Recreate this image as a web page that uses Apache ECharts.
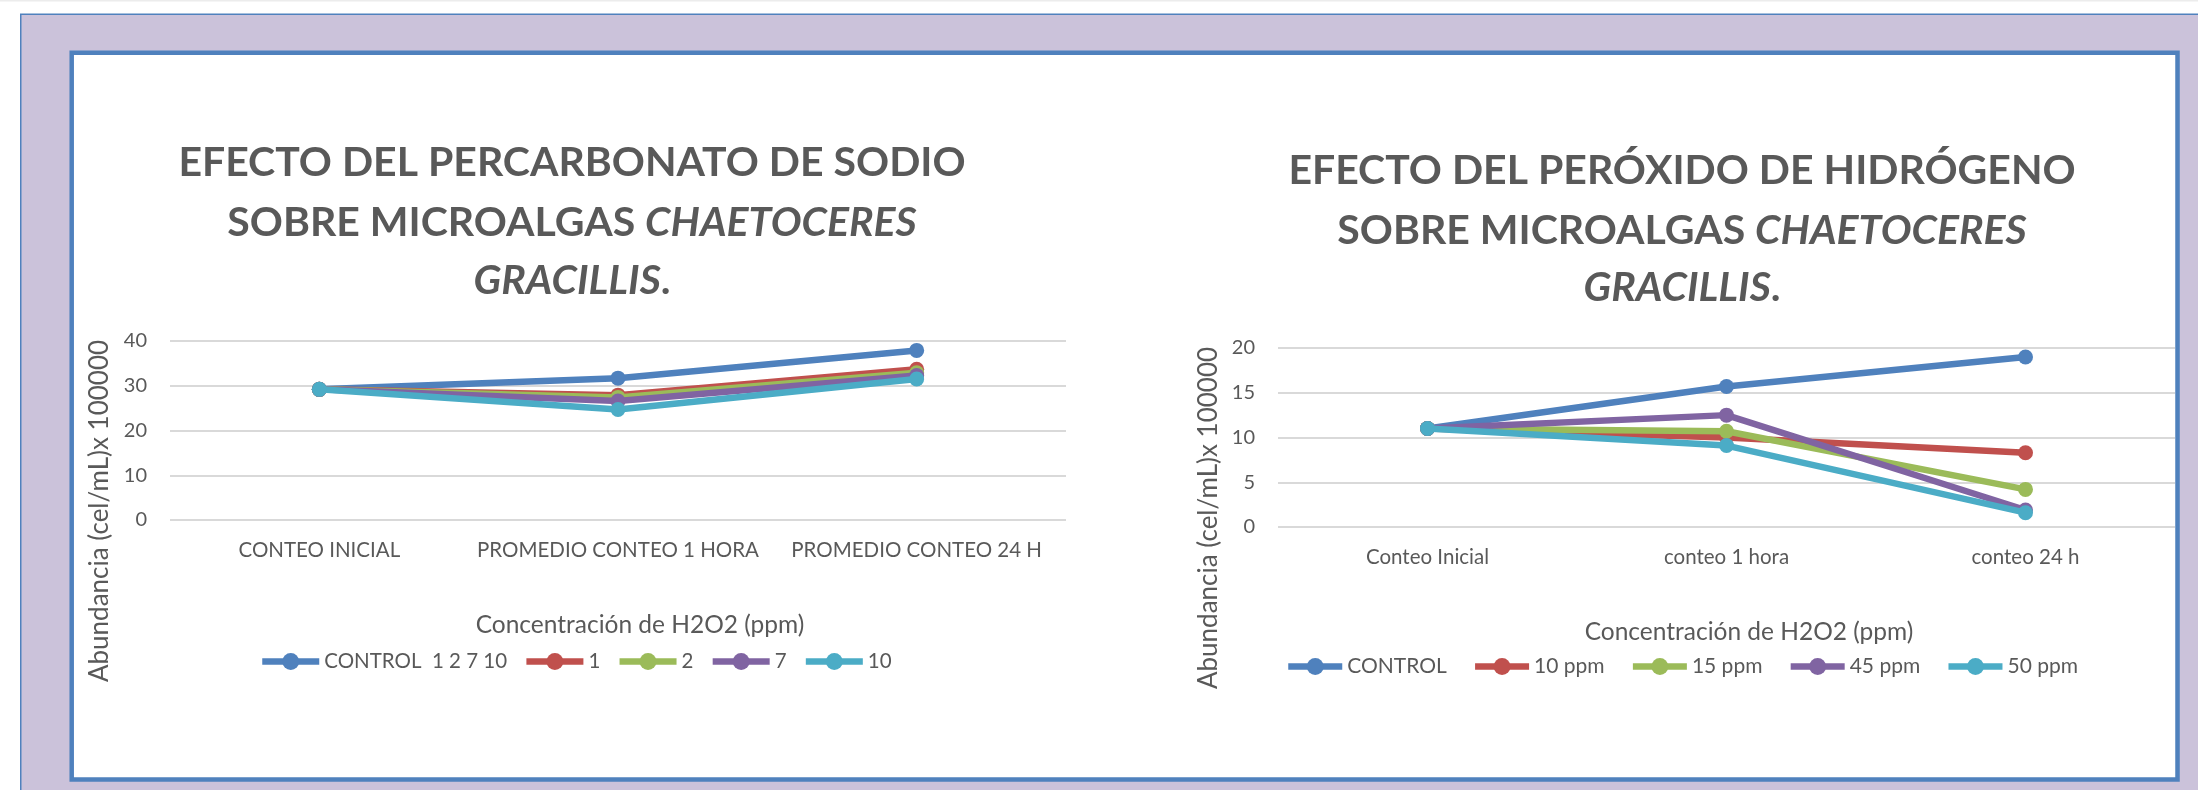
<!DOCTYPE html>
<html>
<head>
<meta charset="utf-8">
<script src="https://cdn.jsdelivr.net/npm/echarts@6/dist/echarts.min.js"></script>
<style>
  html, body { margin: 0; padding: 0; background: #ffffff; }
  #chart { width: 2198px; height: 790px; }
</style>
</head>
<body>
<div id="chart"></div>
<script>
// Percarbonato de sodio (panel izquierdo)
const leftCategories = ['CONTEO INICIAL', 'PROMEDIO CONTEO 1 HORA', 'PROMEDIO CONTEO 24 H'];
const leftNames = ['CONTROL  1 2 7 10', '1', '2', '7', '10'];
const leftControl = [29.2, 31.7, 37.9];
const left1 = [29.2, 27.9, 33.7];
const left2 = [29.2, 27.4, 32.9];
const left7 = [29.2, 26.6, 32.3];
const left10 = [29.2, 24.7, 31.5];
const leftTicks = { min: 0, max: 40, interval: 10 };

// Peróxido de hidrógeno (panel derecho)
const rightCategories = ['Conteo Inicial', 'conteo 1 hora', 'conteo 24 h'];
const rightNames = ['CONTROL', '10 ppm', '15 ppm', '45 ppm', '50 ppm'];
const rightControl = [11.0, 15.7, 19.0];
const right10 = [11.0, 10.0, 8.3];
const right15 = [11.0, 10.7, 4.2];
const right45 = [11.0, 12.5, 1.9];
const right50 = [11.0, 9.1, 1.6];
const rightTicks = { min: 0, max: 20, interval: 5 };

const palette = ['#4F81BD', '#C0504D', '#9BBB59', '#8064A2', '#4BACC6'];
const TEXT = '#595959';
const FONT = 'Lato, "Liberation Sans", sans-serif';

function makeSeries(names, values, idx) {
  return names.map((n, i) => ({
    name: n,
    type: 'line',
    xAxisIndex: idx,
    yAxisIndex: idx,
    data: values[i],
    symbol: 'circle',
    symbolSize: 15,
    lineStyle: { color: palette[i], width: 6.5 },
    itemStyle: { color: palette[i] },
    z: 3 + i
  }));
}

function makeX(idx, cats) {
  return {
    gridIndex: idx, type: 'category', data: cats, boundaryGap: true,
    axisLine: { show: false }, axisTick: { show: false }, splitLine: { show: false },
    axisLabel: { interval: 0, color: TEXT, fontFamily: FONT, fontSize: 20.5, margin: 20 }
  };
}

function makeY(idx, t) {
  return {
    gridIndex: idx, type: 'value', min: t.min, max: t.max, interval: t.interval,
    axisLine: { show: false }, axisTick: { show: false },
    splitLine: { lineStyle: { color: '#D9D9D9', width: 2 } },
    axisLabel: { color: TEXT, fontFamily: FONT, fontSize: 20, margin: 23 }
  };
}

function makeLegend(names, left, top, itemWidth, gap, size) {
  return {
    data: names, left: left, top: top, padding: 0, orient: 'horizontal',
    itemWidth: itemWidth, itemHeight: 21, itemGap: gap,
    lineStyle: { width: 6.5 },
    textStyle: { color: TEXT, fontFamily: FONT, fontSize: size }
  };
}

function titleLines(cx, ys) {
  const bold = 'bold 41px ' + FONT;
  const ital = 'italic bold 41px ' + FONT;
  return [
    { type: 'text', x: cx, y: ys[0], z: 5,
      style: { text: ys.line1, font: bold, fill: TEXT, align: 'center', textAlign: 'center', verticalAlign: 'middle', textVerticalAlign: 'middle' } },
    { type: 'text', x: cx, y: ys[1], z: 5,
      style: { text: '{n|SOBRE MICROALGAS }{i|CHAETOCERES}', fill: TEXT, font: bold,
        align: 'center', textAlign: 'center', verticalAlign: 'middle', textVerticalAlign: 'middle',
        rich: { n: { font: bold, fill: TEXT }, i: { font: ital, fill: TEXT } } } },
    { type: 'text', x: cx, y: ys[2], z: 5,
      style: { text: '{i|GRACILLIS}{n|.}', fill: TEXT, font: bold,
        align: 'center', textAlign: 'center', verticalAlign: 'middle', textVerticalAlign: 'middle',
        rich: { n: { font: bold, fill: TEXT }, i: { font: ital, fill: TEXT } } } }
  ];
}

function axisName(x, y, text, vertical) {
  return { type: 'text', x: x, y: y, z: 5, rotation: vertical ? Math.PI / 2 : 0,
    style: { text: text, font: (vertical ? 26 : 24.5) + 'px ' + FONT, fill: TEXT, align: 'center', textAlign: 'center', verticalAlign: 'middle', textVerticalAlign: 'middle' } };
}

const leftTitleY = [163, 223, 281]; leftTitleY.line1 = 'EFECTO DEL PERCARBONATO DE SODIO';
const rightTitleY = [171, 231, 288]; rightTitleY.line1 = 'EFECTO DEL PERÓXIDO DE HIDRÓGENO';

const chart = echarts.init(document.getElementById('chart'), null, { renderer: 'canvas', width: 2198, height: 790 });

chart.setOption({
  animation: false,
  backgroundColor: '#ffffff',
  textStyle: { fontFamily: FONT },
  grid: [
    { left: 170, top: 341, width: 896, height: 179 },
    { left: 1278, top: 348, width: 897, height: 179 }
  ],
  xAxis: [makeX(0, leftCategories), makeX(1, rightCategories)],
  yAxis: [makeY(0, leftTicks), makeY(1, rightTicks)],
  legend: [
    makeLegend(leftNames, 259, 651, 57, 16, 20.5),
    makeLegend(rightNames, 1285, 656, 54, 25, 21)
  ],
  series: makeSeries(leftNames, [leftControl, left1, left2, left7, left10], 0)
    .concat(makeSeries(rightNames, [rightControl, right10, right15, right45, right50], 1)),
  graphic: [
    { type: 'rect', z: -20, shape: { x: 0, y: 0, width: 2198, height: 1.5 }, style: { fill: '#ECECEC' } },
    { type: 'rect', z: -19, shape: { x: 20.75, y: 14.25, width: 2300, height: 900 },
      style: { fill: '#CBC2DA', stroke: '#4F81BD', lineWidth: 1.5 } },
    { type: 'rect', z: -18, shape: { x: 71.7, y: 52.8, width: 2105.8, height: 726.7 },
      style: { fill: '#ffffff', stroke: '#4F81BD', lineWidth: 4.5 } }
  ].concat(titleLines(572, leftTitleY), titleLines(1682, rightTitleY), [
    axisName(100, 511, 'Abundancia (cel/mL)x 100000', true),
    axisName(640, 625, 'Concentración de H2O2 (ppm)', false),
    axisName(1209, 518, 'Abundancia (cel/mL)x 100000', true),
    axisName(1749, 632, 'Concentración de H2O2 (ppm)', false)
  ])
});
</script>
</body>
</html>
